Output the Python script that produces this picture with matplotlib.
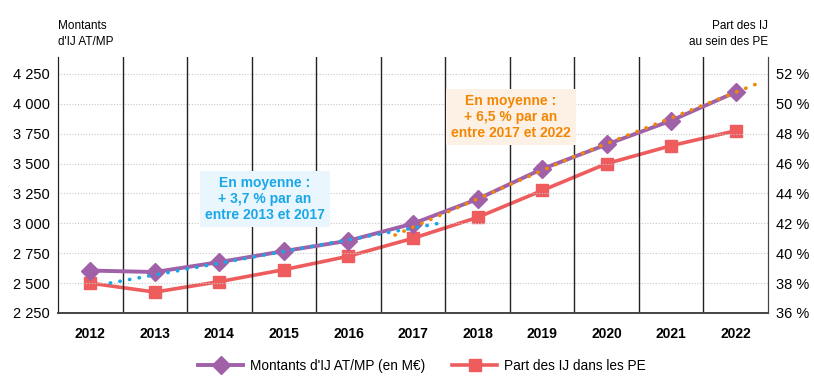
import matplotlib.pyplot as plt
import matplotlib.ticker as mticker
import numpy as np

plt.rcParams['font.family'] = ['Liberation Sans', 'DejaVu Sans']

years = [2012, 2013, 2014, 2015, 2016, 2017, 2018, 2019, 2020, 2021, 2022]
montants = [2605, 2593, 2676, 2768, 2855, 2998, 3203, 3455, 3660, 3860, 4098]
part = [38.0, 37.4, 38.1, 38.9, 39.8, 41.0, 42.4, 44.2, 46.0, 47.2, 48.2]

# trend lines (in year units)
trend1_x = [2012.31, 2017.51]
trend1_y = [2501, 3011]
trend2_x = [2016.72, 2019.5, 2022.39]
trend2_y = [2902, 3560, 4181]

purple = '#a061a8'
red = '#ee5c5e'
blue = '#1aa7e8'
orange = '#f28705'

fig = plt.figure(figsize=(8.14, 3.85), dpi=100)
ax = fig.add_axes([58/814, 72/385, 710/814, 256/385])
ax2 = ax.twinx()

x = np.arange(len(years))
def yx(v):
    return np.array(v) - years[0]

ax.set_xlim(-0.5, len(years) - 0.5)
ax.set_ylim(2250, 4392)
ax2.set_ylim(36, 36 + (4392 - 2250) / 250 * 2)

ax.set_yticks(np.arange(2250, 4251, 250))
ax.yaxis.set_major_formatter(mticker.FuncFormatter(lambda v, p: f'{int(v):,}'.replace(',', ' ')))
ax2.set_yticks(np.arange(36, 53, 2))
ax2.yaxis.set_major_formatter(mticker.FuncFormatter(lambda v, p: f'{int(v)} %'))

for t in ax.get_yticks():
    ax.axhline(t, color='#c8c8c8', lw=0.8, ls=(0, (1, 1.5)), zorder=0)
for b in np.arange(0.5, len(years) - 1, 1):
    ax.axvline(b, color='#222222', lw=1.0, zorder=0)

ax.set_xticks(x)
ax.set_xticklabels([str(y) for y in years], fontweight='bold', fontsize=10)
ax.tick_params(axis='x', length=0, pad=10)
ax.tick_params(axis='y', length=0, labelsize=10.5, pad=6)
ax2.tick_params(axis='y', length=0, labelsize=10.5, pad=6)

for a in (ax, ax2):
    a.spines['top'].set_visible(False)
    a.spines['left'].set_color('#222222')
    a.spines['right'].set_color('#444444')
    a.spines['bottom'].set_color('#444444')
    a.spines['bottom'].set_linewidth(1.2)

ax2.plot(x, part, color=red, lw=2.6, marker='s', markersize=9, zorder=3,
         label='Part des IJ dans les PE')
ax.set_zorder(ax2.get_zorder() + 1)
ax.patch.set_visible(False)
ln1, = ax.plot(x, montants, color=purple, lw=2.8, marker='D', markersize=9, zorder=3,
               label="Montants d'IJ AT/MP (en M€)")
ax.plot(yx(trend1_x), trend1_y, color=blue, lw=2.6, ls=(0, (0.1, 2.6)),
        dash_capstyle='round', zorder=4)
ax.plot(yx(trend2_x), trend2_y, color=orange, lw=2.6, ls=(0, (0.1, 2.6)),
        dash_capstyle='round', zorder=4)

ax.text(265/814, 1 - 199/385, 'En moyenne :\n+ 3,7 % par an\nentre 2013 et 2017',
        transform=fig.transFigure, ha='center', va='center', color=blue,
        fontweight='bold', fontsize=10, linespacing=1.15, zorder=5,
        bbox=dict(boxstyle='square,pad=0.35', fc='#eaf6fd', ec='none'))
ax.text(511/814, 1 - 117/385, 'En moyenne :\n+ 6,5 % par an\nentre 2017 et 2022',
        transform=fig.transFigure, ha='center', va='center', color=orange,
        fontweight='bold', fontsize=10, linespacing=1.15, zorder=5,
        bbox=dict(boxstyle='square,pad=0.35', fc='#fdf1e6', ec='none'))

fig.text(58/814, 1 - 34/385, "Montants\nd'IJ AT/MP", ha='left', va='center', fontsize=8.5,
         linespacing=1.4)
fig.text(768/814, 1 - 34/385, "Part des IJ\nau sein des PE", ha='right', va='center',
         fontsize=8.5, linespacing=1.4)

h2, l2 = ax2.get_legend_handles_labels()
fig.legend([ln1] + h2, [ln1.get_label()] + l2, loc='center', bbox_to_anchor=(422/814, 1 - 366/385),
           ncol=2, frameon=False, fontsize=9.8, handlelength=3.3, columnspacing=2.0,
           handletextpad=0.5)

fig.savefig('out.png', dpi=100)
